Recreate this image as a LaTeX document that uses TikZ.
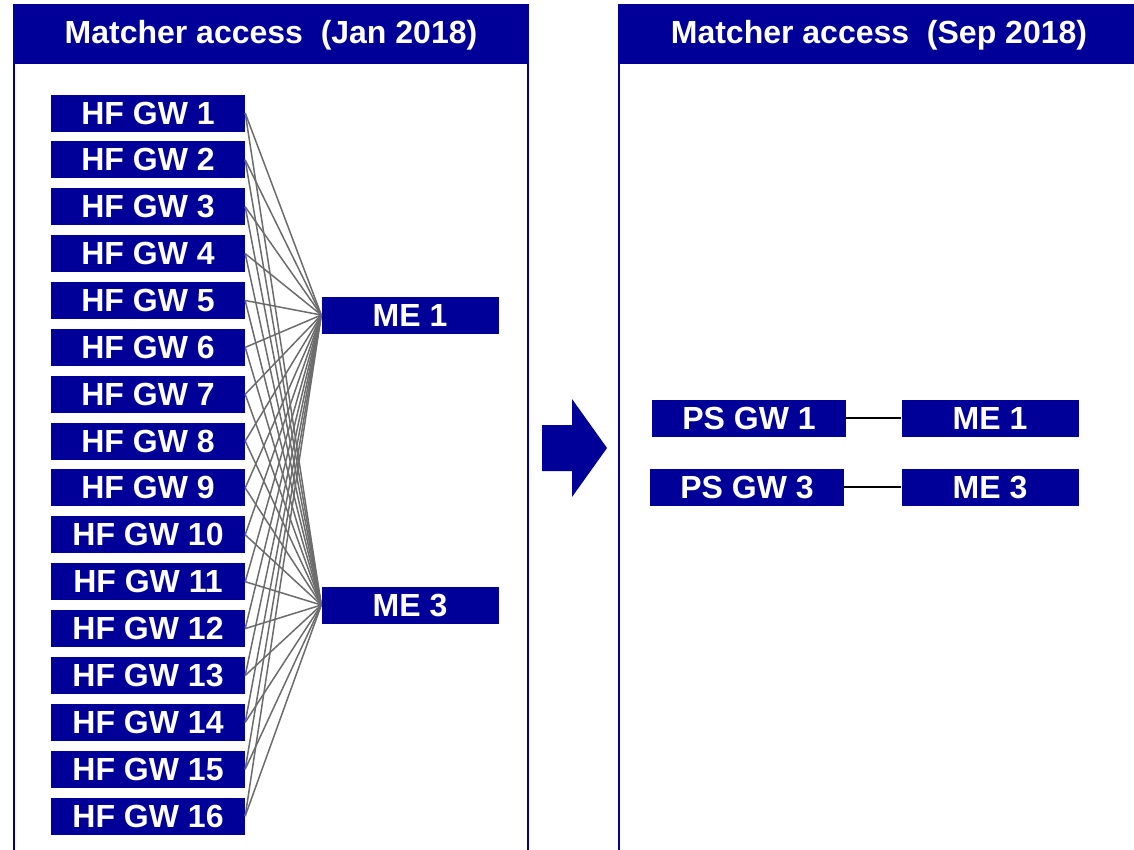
\documentclass[tikz,border=0pt]{standalone}
\usepackage{fontspec}
\setmainfont{Liberation Sans}
\definecolor{navy}{RGB}{0,0,153}
\definecolor{wire}{RGB}{108,108,108}
\begin{document}
\begin{tikzpicture}[x=1pt,y=-1pt,
  label/.style={fill=navy,text=white,inner sep=0pt,
    font=\bfseries\fontsize{32}{32}\selectfont},
  gw/.style={label,minimum width=194pt,minimum height=37pt},
  me/.style={label,minimum width=177pt,minimum height=37pt},
  head/.style={label,minimum width=514pt,minimum height=58pt},
  panel/.style={draw=navy,line width=2pt},
  wire/.style={draw=wire,line width=1.5pt},
  link/.style={draw=black,line width=1.5pt}]
\useasboundingbox (0,0) rectangle (1134,849);
\clip (0,0) rectangle (1134,849);

% left panel: every gateway wired to both matching engines
\draw[panel] (14,5) rectangle (528,880);
\node[head] (hL) at (271,35) {Matcher access\ \ (Jan 2018)};
\foreach \i in {1,...,16}
  \node[gw] (hf\i) at (148,{113+(\i-1)*46.87}) {HF GW \i};
\node[me] (meA) at (410,315) {ME 1};
\node[me] (meB) at (410,605) {ME 3};
\foreach \i in {1,...,16} {
  \draw[wire] (hf\i.east) -- (meA.west);
  \draw[wire] (hf\i.east) -- (meB.west);
}

% transition arrow
\fill[navy] (542,425) -- (572,425) -- (572,399) -- (607,448)
  -- (572,497) -- (572,471) -- (542,471) -- cycle;

% right panel: one gateway per matching engine
\draw[panel] (619,5) rectangle (1140,880);
\node[head,minimum width=520pt] (hR) at (879,35) {Matcher access\ \ (Sep 2018)};
\node[gw] (ps1) at (749,418) {PS GW 1};
\node[gw] (ps3) at (747,487) {PS GW 3};
\node[me] (meC) at (990,418) {ME 1};
\node[me] (meD) at (990,487) {ME 3};
\draw[link] (ps1.east) -- (meC.west);
\draw[link] (ps3.east) -- (meD.west);
\end{tikzpicture}
\end{document}
